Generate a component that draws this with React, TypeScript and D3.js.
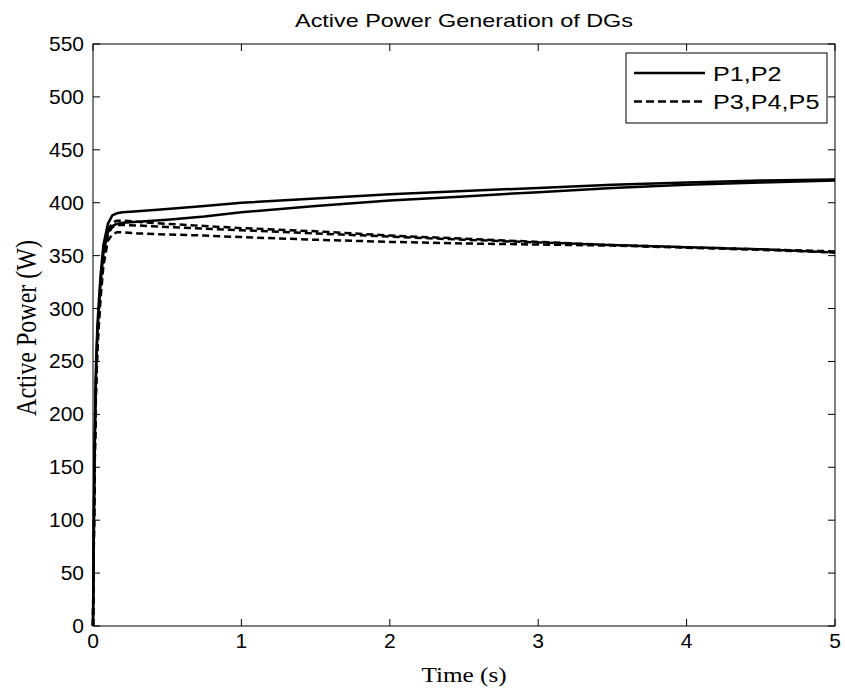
import React from 'react'
import * as d3 from 'd3'

// sample times (s)
const time = [0, 0.01, 0.02, 0.03, 0.05, 0.07, 0.1, 0.13, 0.16, 0.2, 0.3, 0.5, 0.75, 1, 1.5, 2, 2.5, 3, 3.5, 4, 4.5, 5]

// active power of each DG (W)
const p1 = [0, 165, 245, 285, 330, 360, 380, 388, 390, 391, 392, 394, 397, 400, 404, 408, 411, 414, 417, 419, 421, 422]
const p2 = [0, 155, 235, 278, 322, 352, 372, 378, 380, 381, 382, 384, 387, 391, 397, 402, 406, 410, 414, 417, 419, 421]
const p3 = [0, 150, 230, 272, 318, 350, 374, 381, 383, 383, 382, 380, 378, 376, 373, 369, 366, 363, 360, 358, 356, 354]
const p4 = [0, 145, 225, 268, 314, 346, 370, 377, 379, 379, 378.5, 377, 375.5, 374, 371, 368, 365, 362.5, 360, 358, 356, 353]
const p5 = [0, 140, 220, 262, 308, 340, 364, 370, 372, 372, 371, 370, 369, 367.5, 365, 363, 361.5, 360.5, 359.5, 357.5, 355.5, 353]

const xTicks = [0, 1, 2, 3, 4, 5]
const yTicks = [0, 50, 100, 150, 200, 250, 300, 350, 400, 450, 500, 550]

const legendItems = [
  { label: 'P1,P2', dash: null },
  { label: 'P3,P4,P5', dash: '8,4' },
]

const W = 845
const H = 694
const margin = { top: 44, right: 10, bottom: 68, left: 93 }

export default function App() {
  const x = d3.scaleLinear().domain([0, 5]).range([margin.left, W - margin.right])
  const y = d3.scaleLinear().domain([0, 550]).range([H - margin.bottom, margin.top])

  const line = d3.line<number>()
    .x((_, i) => x(time[i]))
    .y(d => y(d))

  const series = [
    { values: p1, dash: null },
    { values: p2, dash: null },
    { values: p3, dash: '7,4' },
    { values: p4, dash: '7,4' },
    { values: p5, dash: '7,4' },
  ]

  const x0 = x(0), x1 = x(5), y0 = y(0), y1 = y(550)
  const tick = 7
  const sans = 'Liberation Sans, Arial, sans-serif'
  const serif = 'Liberation Serif, Times New Roman, serif'

  // legend box
  const lg = { x: 626, y: 53, w: 201, h: 70 }

  return (
    <svg width={W} height={H} style={{ position: 'absolute', left: 0, top: 0, background: '#fff' }}>
      <rect x={0} y={0} width={W} height={H} fill="#fff" />

      <text transform={`translate(${(x0 + x1) / 2},27) scale(1.3,1)`} textAnchor="middle" fontFamily={sans} fontSize={18}>
        Active Power Generation of DGs
      </text>

      {series.map((s, i) => (
        <path key={i} d={line(s.values) || ''} fill="none" stroke="#000" strokeWidth={2.5}
          strokeDasharray={s.dash || undefined} strokeLinejoin="round" />
      ))}

      {/* axes box */}
      <rect x={x0} y={y1} width={x1 - x0} height={y0 - y1} fill="none" stroke="#000" strokeWidth={1} />

      {xTicks.map(t => (
        <g key={'x' + t}>
          <line x1={x(t)} x2={x(t)} y1={y0} y2={y0 - tick} stroke="#000" />
          <line x1={x(t)} x2={x(t)} y1={y1} y2={y1 + tick} stroke="#000" />
          <text x={x(t)} y={y0 + 22} textAnchor="middle" fontFamily={sans} fontSize={21}>{t}</text>
        </g>
      ))}

      {yTicks.map(t => (
        <g key={'y' + t}>
          <line x1={x0} x2={x0 + tick} y1={y(t)} y2={y(t)} stroke="#000" />
          <line x1={x1} x2={x1 - tick} y1={y(t)} y2={y(t)} stroke="#000" />
          <text x={x0 - 9} y={y(t) + 7} textAnchor="end" fontFamily={sans} fontSize={21}>{t}</text>
        </g>
      ))}

      <text transform={`translate(${(x0 + x1) / 2},${y0 + 56}) scale(1.2,1)`} textAnchor="middle" fontFamily={serif} fontSize={21}>
        Time (s)
      </text>
      <text transform={`translate(36,328) rotate(-90) scale(1,1.25)`} textAnchor="middle" fontFamily={serif} fontSize={24}>
        Active Power (W)
      </text>

      <rect x={lg.x} y={lg.y} width={lg.w} height={lg.h} fill="#fff" stroke="#000" />
      {legendItems.map((it, i) => {
        const ly = lg.y + 20 + i * 28.5
        return (
          <g key={it.label}>
            <line x1={lg.x + 8} x2={lg.x + 79} y1={ly} y2={ly} stroke="#000" strokeWidth={2.5}
              strokeDasharray={it.dash || undefined} />
            <text transform={`translate(${lg.x + 87},${ly + 7.5}) scale(1.2,1)`} fontFamily={sans} fontSize={21}>
              {it.label}
            </text>
          </g>
        )
      })}
    </svg>
  )
}
